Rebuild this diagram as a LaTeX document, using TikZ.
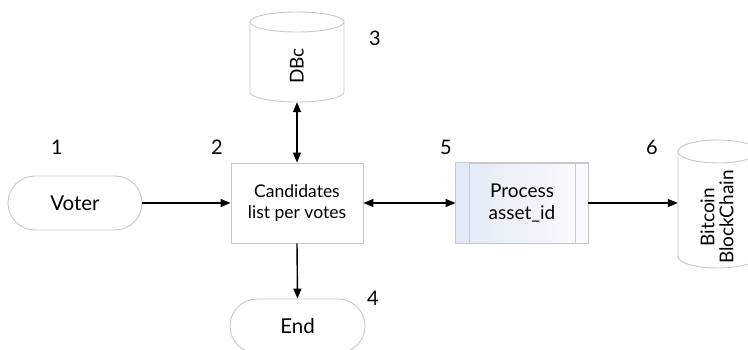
\documentclass[tikz,border=0pt]{standalone}
\usepackage{fontspec}
\setmainfont{Lato}
\usetikzlibrary{arrows.meta,shapes.misc}
\definecolor{edgegray}{RGB}{200,200,200}
\definecolor{procleft}{RGB}{226,233,246}
\definecolor{procright}{RGB}{250,251,253}
\begin{document}
\begin{tikzpicture}[x=1pt,y=-1pt,
  every node/.style={font=\fontsize{19}{22}\selectfont, inner sep=0pt},
  stadium/.style={draw=edgegray, line width=0.9pt, rounded rectangle, minimum width=134, minimum height=54, font=\fontsize{20.5}{22}\selectfont},
  procbox/.style={draw=edgegray, line width=0.9pt, minimum width=132, minimum height=80, align=center},
  numlabel/.style={font=\fontsize{20}{22}\selectfont},
  flow/.style={line width=1.4pt, -{Triangle[length=10pt,width=8pt]}},
  biflow/.style={line width=1.4pt, {Triangle[length=10pt,width=8pt]}-{Triangle[length=10pt,width=8pt]}},
  cylline/.style={draw=edgegray, line width=0.9pt, fill=white}
]
\useasboundingbox (0,0) rectangle (748,350);
\begin{scope}
\clip (0,0) rectangle (748,350);

% terminals
\node[stadium] (voter) at (75,203) {Voter};
\node[stadium, minimum width=135] (end) at (297.5,326) {End};

% central step
\node[procbox, font=\fontsize{17.5}{20.5}\selectfont] (cand) at (297,203) {Candidates\\list per votes};

% predefined process
\node[procbox, left color=procleft, right color=procright] (proc) at (522,203) {Process\\asset\_id};
\fill[procleft] ([xshift=0.5pt,yshift=-0.5pt]proc.north west) rectangle ([xshift=14pt,yshift=0.5pt]proc.south west);
\draw[edgegray, line width=0.9pt] (proc.north west) rectangle (proc.south east);
\draw[edgegray, line width=0.9pt] ([xshift=14pt]proc.north west) -- ([xshift=14pt]proc.south west);
\draw[edgegray, line width=0.9pt] ([xshift=-13pt]proc.north east) -- ([xshift=-13pt]proc.south east);

% database DBc
\node[draw=none, minimum width=94, minimum height=90] (dbc) at (297,57) {};
\draw[cylline] (250,22) -- (250,92) arc[start angle=180, end angle=0, x radius=47, y radius=10]
  -- (344,22);
\draw[cylline] (297,22) ellipse[x radius=47, y radius=10];
\node[rotate=90] (dbctext) at (297,66) {DBc};

% database Bitcoin BlockChain
\node[draw=none, minimum width=80, minimum height=128] (btc) at (718,204) {};
\draw[cylline] (678,151.5) -- (678,256.5) arc[start angle=180, end angle=0, x radius=40, y radius=11.5]
  -- (758,151.5);
\draw[cylline] (718,151.5) ellipse[x radius=40, y radius=11.5];
\node[rotate=90, align=center, font=\fontsize{19}{19}\selectfont] (btctext) at (717,217) {Bitcoin\\BlockChain};
\end{scope}

% step numbers
\node[numlabel] (n1) at (57,147) {1};
\node[numlabel] (n2) at (217,147) {2};
\node[numlabel] (n3) at (375,38) {3};
\node[numlabel] (n4) at (373,298) {4};
\node[numlabel] (n5) at (446,147) {5};
\node[numlabel] (n6) at (652,147) {6};

% connectors
\draw[flow] (voter.east) -- (cand.west |- voter.east);
\draw[biflow] (dbc.south) -- (cand.north);
\draw[flow] (cand.south) -- (end.north);
\draw[biflow] (cand.east) -- (proc.west |- cand.east);
\draw[flow] (proc.east) -- (btc.west |- proc.east);
\end{tikzpicture}
\end{document}
